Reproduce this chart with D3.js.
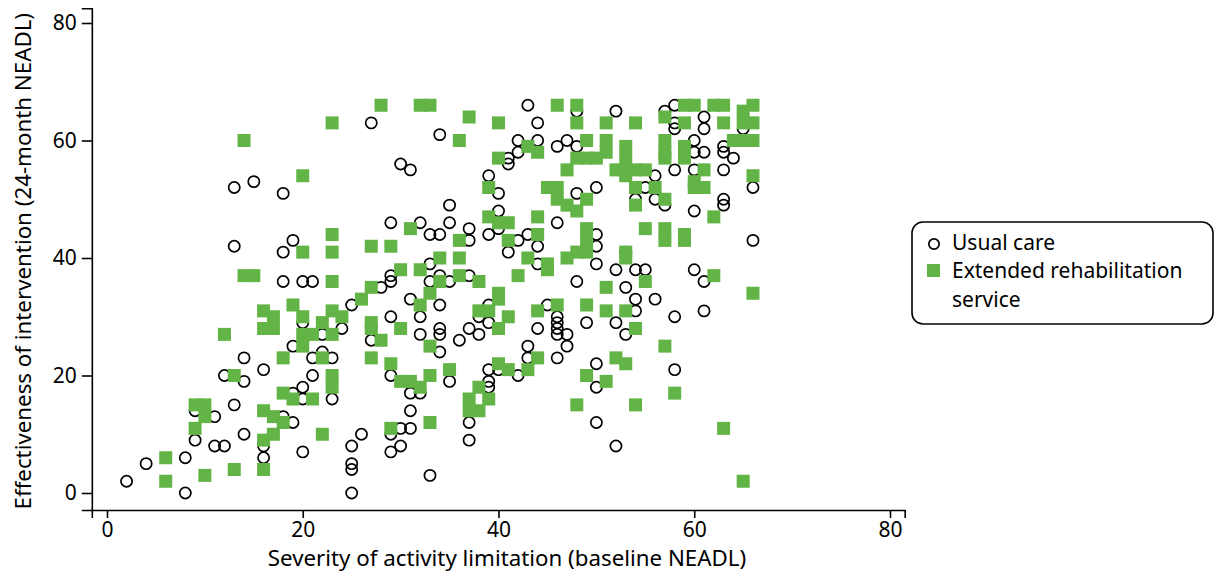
<!DOCTYPE html>
<html>
<head>
<meta charset="utf-8">
<script src="https://cdn.jsdelivr.net/npm/d3@7"></script>
<style>
  html, body { margin: 0; padding: 0; background: #fff; }
  svg { display: block; }
  text { font-family: "Noto Sans", "DejaVu Sans", sans-serif; fill: #000; }
</style>
</head>
<body>
<svg id="chart" width="1216" height="574"></svg>
<script>
// ---- Data ----
const xTicks = [0, 20, 40, 60, 80];
const yTicks = [0, 20, 40, 60, 80];
const xTitle = "Severity of activity limitation (baseline NEADL)";
const yTitle = "Effectiveness of intervention (24-month NEADL)";
const seriesNames = ["Usual care", "Extended rehabilitation service"];

// Usual care: [baseline NEADL, 24-month NEADL]
const usualCare = [
  [2,2],[4,5],[8,0],[8,6],[9,9],[9,14],[11,13],[11,8],[12,8],[12,20],[13,15],[14,23],[14,19],[14,10],[16,21],[16,8],[16,6],
  [13,52],[15,53],[13,42],[18,51],[18,41],[18,36],
  [27,63],[34,61],[30,56],[31,55],[19,43],[29,46],[32,46],[33,44],[34,44],[33,39],[20,36],[21,36],[29,37],[29,36],[28,35],[33,36],[31,33],[25,32],
  [20,29],[22,27],[24,28],[19,25],[22,24],[21,23],[23,23],[21,20],[23,16],[19,17],[20,18],[20,16],[18,13],[19,12],[20,7],[26,10],[25,8],[25,5],[25,4],[25,0],
  [27,26],[29,30],[32,30],[32,27],[34,28],[34,24],[29,20],[31,17],[32,17],[31,14],[30,11],[31,11],[29,10],[30,8],[29,7],[33,3],
  [43,66],[48,65],[44,63],[42,60],[44,60],[46,59],[47,60],[48,59],[41,57],[41,56],[42,58],[39,54],[40,51],[50,52],[48,51],[35,49],[40,48],
  [46,46],[35,46],[37,45],[37,43],[39,44],[40,45],[42,43],[43,44],[44,42],[50,44],[50,42],[41,41],[44,39],[50,39],[34,37],[35,36],[37,37],[48,36],[34,32],[39,32],[45,32],
  [52,65],[57,65],[58,66],[61,64],[58,63],[58,62],[65,62],[61,62],[60,60],[63,59],[60,58],[61,58],[63,58],[64,57],[58,55],[60,55],[63,55],[56,54],
  [66,52],[55,52],[54,50],[56,50],[57,49],[63,50],[63,49],[60,48],[66,43],[53,41],[52,38],[54,38],[55,38],[60,38],[61,36],[53,35],[54,33],[56,33],
  [54,31],[58,30],[61,31],[52,29],[53,27],[50,22],[58,21],[50,18],[50,12],[52,8],
  [38,30],[37,28],[38,27],[39,29],[36,26],[34,27],[35,19],[46,30],[46,29],[46,28],[46,27],[47,27],[47,25],[44,28],[43,25],[43,23],[46,23],
  [42,20],[39,21],[40,21],[49,29],[39,19],[39,18],[37,12],[37,9]
];

// Extended rehabilitation service: [baseline NEADL, 24-month NEADL]
const extendedRehab = [
  [14,60],[14,37],[15,37],
  [28,66],[32,66],[33,66],[23,63],[20,54],[31,45],[20,41],[23,44],[23,41],[27,42],[29,42],[34,40],[30,38],[32,38],[23,36],[27,35],[26,33],[33,34],[19,32],[23,31],[32,32],
  [46,66],[48,66],[37,64],[40,63],[48,63],[36,60],[49,60],[43,59],[44,58],[40,57],[48,57],[49,57],[50,57],[47,55],[39,52],[45,52],[46,52],[46,50],[47,49],[48,48],[49,50],
  [44,47],[39,47],[40,46],[41,46],[41,43],[44,44],[36,43],[49,45],[49,43],[48,41],[49,41],[43,40],[45,39],[45,38],[47,40],[36,40],[34,36],[36,37],[38,36],[42,37],[40,34],[40,33],[46,32],[49,32],
  [59,66],[60,66],[62,66],[63,66],[66,66],[65,65],[57,64],[59,63],[63,63],[65,63],[66,63],[51,63],[54,63],[51,60],[64,60],[65,60],[66,60],[57,60],[57,58],[57,57],[59,59],[59,57],
  [51,58],[53,59],[53,57],[53,55],[53,54],[52,55],[54,55],[55,55],[61,55],[66,54],[60,53],[60,52],[61,52],[56,52],[54,52],[54,49],[57,50],[62,47],[55,45],[57,45],[57,43],[59,44],[59,43],
  [53,41],[53,40],[62,37],[51,35],[55,36],[66,34],
  [16,31],[17,30],[16,28],[17,28],[12,27],[13,20],[9,15],[10,15],[10,13],[9,11],[16,14],[17,13],[17,10],[16,9],[16,4],[6,6],[6,2],[10,3],[13,4],
  [20,30],[24,30],[22,29],[23,27],[20,27],[21,27],[20,25],[22,23],[18,23],[23,20],[23,18],[18,17],[19,16],[21,16],[18,12],[22,10],
  [27,29],[27,28],[28,26],[27,23],[30,28],[33,25],[29,22],[30,19],[31,19],[32,18],[33,20],[29,11],[33,12],
  [38,31],[39,31],[41,30],[40,28],[35,21],[44,31],[44,23],[43,21],[40,22],[41,21],[49,20],[48,15],[38,18],[37,16],[39,16],[37,14],[38,14],
  [51,31],[53,31],[54,28],[57,25],[52,23],[53,22],[51,19],[58,17],[54,15],[63,11],[65,2]
];

// ---- Drawing ----
const svg = d3.select("#chart");
const green = "#63b446";

const x = d3.scaleLinear().domain([0, 80]).range([107, 890]);
const y = d3.scaleLinear().domain([0, 80]).range([493, 23]);

const xAxisY = y(-2.9);
const yAxisX = x(-1.55);

const xAxisG = svg.append("g").attr("transform", `translate(0,${xAxisY})`)
  .call(d3.axisBottom(x.copy().domain([-1.55, 81.5]).range([x(-1.55), x(81.5)]))
    .tickValues(xTicks).tickSizeOuter(0).tickSize(8).tickPadding(4));
const yAxisG = svg.append("g").attr("transform", `translate(${yAxisX},0)`)
  .call(d3.axisLeft(y.copy().domain([-2.9, 82.5]).range([y(-2.9), y(82.5)]))
    .tickValues(yTicks).tickSizeOuter(0).tickSize(10).tickPadding(5));

[xAxisG, yAxisG].forEach(g => {
  g.selectAll("path.domain").attr("stroke", "#000").attr("stroke-width", 1.6);
  g.selectAll(".tick line").attr("stroke", "#000").attr("stroke-width", 1.6);
  g.selectAll(".tick text").attr("font-size", 21).attr("font-family", '"Noto Sans", sans-serif').attr("fill", "#000");
});

// titles
svg.append("text").attr("x", 507).attr("y", 566).attr("text-anchor", "middle")
  .attr("font-size", 22.3).text(xTitle);
svg.append("text").attr("transform", `translate(31,${(y(-2.9)+y(82.5))/2 + 2}) rotate(-90)`)
  .attr("text-anchor", "middle").attr("font-size", 22.3).text(yTitle);

// points
svg.append("g").selectAll("circle").data(usualCare).join("circle")
  .attr("cx", d => x(d[0])).attr("cy", d => y(d[1])).attr("r", 5.6)
  .attr("fill", "none").attr("stroke", "#000").attr("stroke-width", 1.7);

const sq = 13;
svg.append("g").selectAll("rect").data(extendedRehab).join("rect")
  .attr("x", d => x(d[0]) - sq / 2).attr("y", d => y(d[1]) - sq / 2)
  .attr("width", sq).attr("height", sq).attr("fill", green);

// legend
const lg = svg.append("g");
lg.append("rect").attr("x", 912).attr("y", 222).attr("width", 301).attr("height", 102)
  .attr("rx", 11).attr("fill", "#fff").attr("stroke", "#000").attr("stroke-width", 1.6);
lg.append("circle").attr("cx", 934).attr("cy", 244).attr("r", 5.2)
  .attr("fill", "none").attr("stroke", "#000").attr("stroke-width", 1.7);
lg.append("text").attr("x", 952).attr("y", 250).attr("font-size", 21).text(seriesNames[0]);
lg.append("rect").attr("x", 927).attr("y", 264).attr("width", 13).attr("height", 13).attr("fill", green);
lg.append("text").attr("x", 952).attr("y", 278).attr("font-size", 21).text("Extended rehabilitation");
lg.append("text").attr("x", 952).attr("y", 307).attr("font-size", 21).text("service");
</script>
</body>
</html>
